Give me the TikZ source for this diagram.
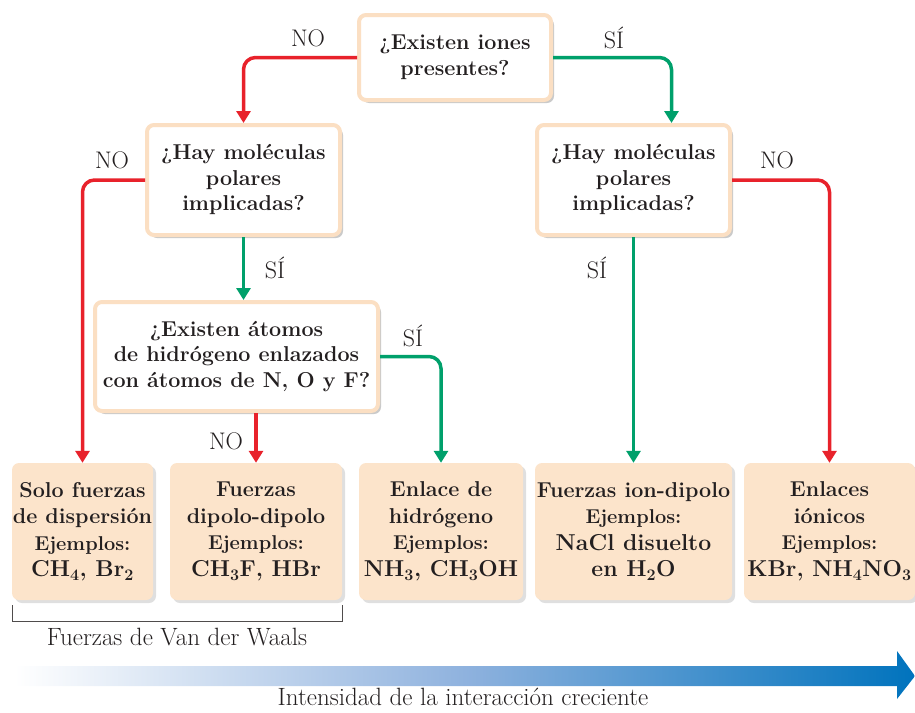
\documentclass[tikz,border=0pt]{standalone}
\usepackage{tikz}
\usetikzlibrary{arrows.meta,positioning,shadows}
\definecolor{qborder}{HTML}{FBDFC3}
\definecolor{rfill}{HTML}{FCE4CB}
\definecolor{nored}{HTML}{E8222B}
\definecolor{sigreen}{HTML}{00A06B}
\definecolor{gblue}{HTML}{0073BD}
\definecolor{gmid}{HTML}{8FB2DE}
\definecolor{ink}{HTML}{231F20}
\tikzset{
  pregunta/.style={draw=qborder,fill=white,line width=4pt,rounded corners=7pt,outer sep=2pt,align=center,inner sep=0pt,
    font=\fontsize{21.5}{25.5}\selectfont\bfseries,text=ink,drop shadow={shadow xshift=3pt,shadow yshift=-3pt,fill=black!35,opacity=.6}},
  resultado/.style={fill=rfill,rounded corners=7pt,align=center,inner sep=0pt,minimum height=137pt,
    font=\fontsize{21.5}{26.5}\selectfont\bfseries,text=ink,drop shadow={shadow xshift=3pt,shadow yshift=-3pt,fill=black!25,opacity=.5}},
  noarr/.style={-{Triangle[width=14pt,length=12pt]},line width=3.5pt,draw=nored,rounded corners=12pt},
  siarr/.style={-{Triangle[width=14pt,length=12pt]},line width=3.5pt,draw=sigreen,rounded corners=12pt},
  rot/.style={font=\fontsize{24}{26}\selectfont,text=ink},
  leyenda/.style={font=\fontsize{25}{28}\selectfont,text=ink},
}
\newcommand{\formula}{\fontsize{23}{27}\selectfont}
\newcommand{\ejemplos}{\fontsize{20}{27}\selectfont}

\begin{document}
\begin{tikzpicture}[x=1pt,y=-1pt]
  \useasboundingbox (0,0) rectangle (915,712);
  % preguntas
  \node[pregunta,minimum width=192pt,minimum height=85pt] (iones) at (455,57.5) {¿Existen iones\\presentes?};
  \node[pregunta,minimum width=193pt,minimum height=110pt] (polizq) at (243.5,180) {¿Hay moléculas\\polares\\implicadas?};
  \node[pregunta,minimum width=193pt,minimum height=110pt] (polder) at (633.5,180) {¿Hay moléculas\\polares\\implicadas?};
  \node[pregunta,minimum width=283pt,minimum height=109pt] (hidro) at (236.5,356.5) {¿Existen átomos\\de hidrógeno enlazados\\con átomos de N, O y F?};
  % resultados
  \node[resultado,minimum width=141pt] (disp) at (82.5,531.5) {Solo fuerzas\\de dispersión\\{\ejemplos Ejemplos:}\\{\formula CH\textsubscript{4}, Br\textsubscript{2}}};
  \node[resultado,minimum width=172pt] (dipdip) at (256,531.5) {Fuerzas\\dipolo-dipolo\\{\ejemplos Ejemplos:}\\{\formula CH\textsubscript{3}F, HBr}};
  \node[resultado,minimum width=164pt] (enlh) at (441,531.5) {Enlace de\\hidrógeno\\{\ejemplos Ejemplos:}\\{\formula NH\textsubscript{3}, CH\textsubscript{3}OH}};
  \node[resultado,minimum width=197pt] (iondip) at (633.5,531.5) {Fuerzas ion-dipolo\\{\ejemplos Ejemplos:}\\{\formula NaCl disuelto}\\{\formula en H\textsubscript{2}O}};
  \node[resultado,minimum width=171pt] (ionicos) at (829.5,531.5) {Enlaces\\iónicos\\{\ejemplos Ejemplos:}\\{\formula KBr, NH\textsubscript{4}NO\textsubscript{3}}};
  % conectores
  \draw[noarr] (iones.west) -| (polizq.north);
  \draw[siarr] (iones.east) -| ([xshift=38pt]polder.north);
  \draw[noarr] (polizq.west) -| (disp.north);
  \draw[siarr] (polizq.south) -- (polizq.south |- hidro.north);
  \draw[siarr] (polder.south) -- (iondip.north);
  \draw[noarr] (polder.east) -| (ionicos.north);
  \draw[noarr] (dipdip.north |- hidro.south) -- (dipdip.north);
  \draw[siarr] (hidro.east) -| (enlh.north);
  \node[rot] (no1) at (308,38) {NO};
  \node[rot] (si1) at (614,38) {SÍ};
  \node[rot] (no2) at (112,160) {NO};
  \node[rot] (si2) at (275,268) {SÍ};
  \node[rot] (si3) at (597,268) {SÍ};
  \node[rot] (no3) at (777,160) {NO};
  \node[rot] (si4) at (413,336) {SÍ};
  \node[rot] (no4) at (226,441) {NO};
  % llave y flecha
  \draw[ink!80,line width=1pt] (12,605) -- (12,621) -- (342,621) -- (342,605);
  \node[leyenda] (vdw) at (177,637) {Fuerzas de Van der Waals};
  \shade[left color=white,right color=gblue,middle color=gmid] (15,666) -- (897,666) -- (897,651) -- (915,676) -- (897,699) -- (897,686) -- (15,686) -- cycle;
  \node[leyenda] (inten) at (463,697) {Intensidad de la interacción creciente};
\end{tikzpicture}
\end{document}
